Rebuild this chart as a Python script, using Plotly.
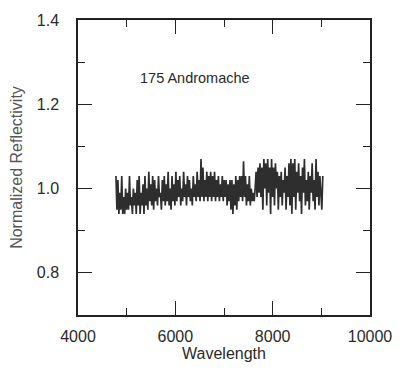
import numpy as np
import plotly.graph_objects as go

# Spectrum samples, wavelength grid start/end in Angstrom
WAVE_START = 4780
WAVE_END = 9030
reflectivity = [
    1.03, 0.95, 1.02, 0.94, 0.99, 0.95, 1.03, 0.94, 0.98, 0.94,
    1.00, 0.95, 0.99, 0.95, 1.03, 0.96, 0.98, 0.94, 1.00, 0.96,
    0.99, 0.94, 1.02, 0.96, 1.03, 0.94, 0.99, 0.96, 1.01, 0.94,
    1.03, 0.96, 1.00, 0.95, 1.04, 0.97, 1.01, 0.96, 1.03, 0.95,
    1.02, 0.97, 1.00, 0.96, 1.03, 0.98, 0.99, 0.95, 1.02, 0.97,
    1.03, 0.96, 1.01, 0.97, 1.04, 0.96, 1.00, 0.95, 1.03, 0.97,
    1.01, 0.96, 1.04, 0.97, 1.02, 0.98, 1.03, 0.96, 1.00, 0.97,
    1.04, 0.98, 1.01, 0.96, 1.03, 0.98, 1.02, 0.97, 1.00, 0.96,
    1.03, 0.98, 1.01, 0.97, 1.04, 0.98, 1.02, 0.97, 1.07, 0.98,
    1.05, 0.97, 1.02, 0.98, 1.04, 0.97, 1.03, 0.98, 1.04, 0.97,
    1.03, 0.98, 1.04, 0.97, 1.02, 0.98, 1.03, 0.97, 1.01, 0.98,
    1.03, 0.97, 1.02, 0.98, 1.02, 0.96, 1.01, 0.97, 1.02, 0.95,
    1.02, 0.94, 1.01, 0.96, 1.03, 0.95, 1.02, 0.97, 1.03, 0.98,
    1.03, 0.97, 1.065, 0.98, 1.03, 0.96, 1.01, 0.97, 1.03, 0.96,
    1.00, 0.97, 0.99, 0.97, 1.00, 1.04, 0.98, 1.05, 0.99, 1.06,
    0.98, 1.05, 0.95, 1.07, 1.00, 1.06, 0.96, 1.07, 0.99, 1.05,
    0.94, 1.07, 0.98, 1.05, 0.96, 1.06, 1.00, 1.04, 0.95, 1.03,
    0.98, 1.04, 0.96, 1.02, 0.99, 1.05, 0.95, 1.03, 0.98, 1.06,
    0.96, 1.07, 0.94, 1.06, 0.98, 1.07, 0.95, 1.04, 0.99, 1.06,
    0.97, 1.03, 0.94, 1.05, 0.99, 1.07, 0.96, 1.02, 0.97, 1.04,
    0.95, 1.03, 0.99, 1.06, 0.97, 1.02, 0.95, 1.07, 0.98, 1.04,
    0.96, 1.03, 0.99, 0.95, 1.03,
]
wavelength = np.linspace(WAVE_START, WAVE_END, len(reflectivity))

x_tick_vals = [4000, 6000, 8000, 10000]
y_tick_vals = [0.8, 1.0, 1.2, 1.4]
label_text = "175 Andromache"

FONT = "Liberation Sans, Arial, sans-serif"
INK = "#2a2a2a"

fig = go.Figure()
fig.add_trace(go.Scatter(
    x=wavelength, y=reflectivity, mode="lines",
    line=dict(color="#2e2e2e", width=1.7),
    showlegend=False, hoverinfo="skip",
))

fig.add_annotation(x=6400, y=1.262, text=label_text, showarrow=False,
                   font=dict(family=FONT, size=14.5, color=INK),
                   xanchor="center", yanchor="middle")

fig.update_layout(
    width=404, height=370,
    margin=dict(l=78, r=26, t=17, b=53),
    paper_bgcolor="white", plot_bgcolor="white",
    font=dict(family=FONT, size=16, color=INK),
)
fig.update_xaxes(
    range=[4000, 10000], tickvals=x_tick_vals, tickformat="d",
    ticks="inside", ticklen=14, tickwidth=1.3, tickcolor="#222",
    showline=True, linecolor="#222", linewidth=1.5, mirror="ticks",
    showgrid=False, zeroline=False,
    minor=dict(dtick=1000, tick0=4000, ticks="inside", ticklen=7,
               tickwidth=1.3, tickcolor="#222", showgrid=False),
    ticklabelstandoff=6,
    title=dict(text="Wavelength", font=dict(size=16, color=INK), standoff=2),
)
fig.update_yaxes(
    range=[0.7, 1.4], tickvals=y_tick_vals, tickformat=".1f",
    ticks="inside", ticklen=14, tickwidth=1.3, tickcolor="#222",
    showline=True, linecolor="#222", linewidth=1.5, mirror="ticks",
    showgrid=False, zeroline=False,
    minor=dict(dtick=0.1, tick0=0.7, ticks="inside", ticklen=7,
               tickwidth=1.3, tickcolor="#222", showgrid=False),
    ticklabelstandoff=14,
    title=dict(text="Normalized Reflectivity", font=dict(size=16, color="#555"), standoff=10),
)

fig.write_html("out.html")
